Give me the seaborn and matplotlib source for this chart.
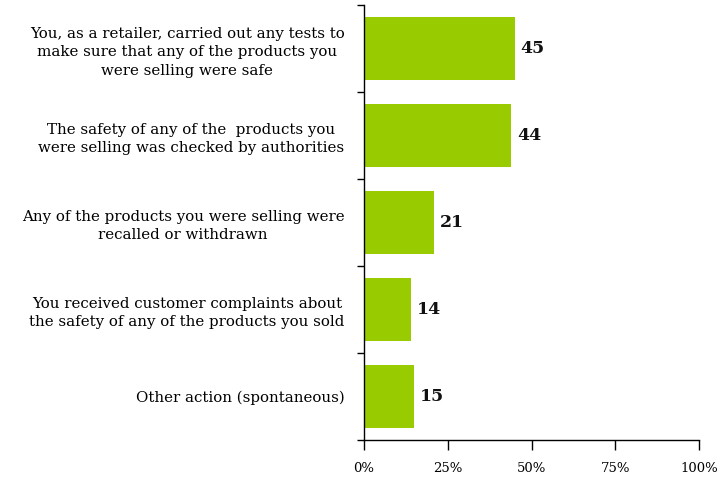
import matplotlib
matplotlib.use("Agg")
import matplotlib.pyplot as plt
import seaborn as sns
import pandas as pd
import numpy as np

categories = [
    "You, as a retailer, carried out any tests to\nmake sure that any of the products you\nwere selling were safe",
    "The safety of any of the  products you\nwere selling was checked by authorities",
    "Any of the products you were selling were\nrecalled or withdrawn",
    "You received customer complaints about\nthe safety of any of the products you sold",
    "Other action (spontaneous)",
]
values = [45, 44, 21, 14, 15]
xticks = [0, 25, 50, 75, 100]
xticklabels = ["0%", "25%", "50%", "75%", "100%"]

sns.set_theme(style="white")
plt.rcParams["font.family"] = ["DejaVu Serif"]

fig = plt.figure(figsize=(7.23, 4.79), dpi=100)
ax = fig.add_axes([364 / 723, 1 - 440 / 479, 335 / 723, 435 / 479])

df = pd.DataFrame({"cat": categories, "val": values})
sns.barplot(data=df, y="cat", x="val", color="#99CC00", width=0.72,
            saturation=1, ax=ax, edgecolor="none")

ax.set_xlim(0, 100)
ax.set_ylim(len(categories) - 0.5, -0.5)
ax.set_xlabel("")
ax.set_ylabel("")
ax.set_xticks(xticks)
ax.set_xticklabels(xticklabels, fontsize=9.5, color="black")
ax.tick_params(axis="x", direction="out", length=7, width=1, color="black", pad=9, bottom=True)

ax.set_yticks(range(len(categories)))
ax.set_yticklabels(categories, fontsize=10.8, color="black")
for t in ax.get_yticklabels():
    t.set_multialignment("center")
    t.set_linespacing(1.4)
ax.tick_params(axis="y", which="major", length=0, pad=14, left=False)
ax.set_yticks(np.arange(-0.5, len(categories) + 0.5, 1), minor=True)
ax.tick_params(axis="y", which="minor", direction="out", length=5, width=1, color="black", left=True)

for s in ["top", "right"]:
    ax.spines[s].set_visible(False)
for s in ["left", "bottom"]:
    ax.spines[s].set_color("black")
    ax.spines[s].set_linewidth(1)

for c in ax.containers:
    ax.bar_label(c, labels=[str(v) for v in values], padding=4,
                 fontsize=12.5, fontweight="bold", color="#111111")

fig.savefig("out.png", dpi=100)
